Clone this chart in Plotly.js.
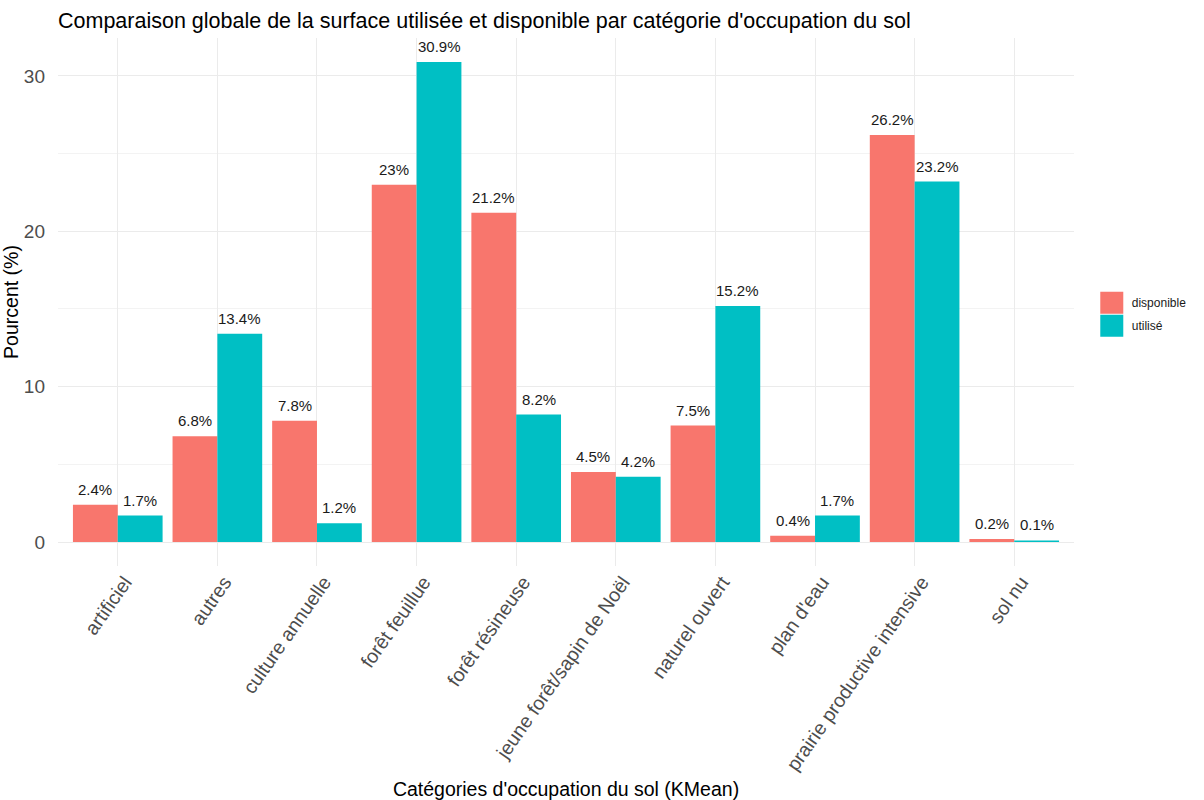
<!DOCTYPE html>
<html>
<head>
<meta charset="utf-8">
<script src="https://cdn.plot.ly/plotly-3.0.1.min.js"></script>
<style>
  html, body { margin: 0; padding: 0; background: #ffffff; }
  #chart { width: 1204px; height: 800px; }
</style>
</head>
<body>
<div id="chart"></div>
<script>
// Data
const categories = [
  "artificiel", "autres", "culture annuelle", "forêt feuillue", "forêt résineuse",
  "jeune forêt/sapin de Noël", "naturel ouvert", "plan d'eau",
  "prairie productive intensive", "sol nu"
];
const seriesNames = ["disponible", "utilisé"];
const disponible = [2.4, 6.8, 7.8, 23, 21.2, 4.5, 7.5, 0.4, 26.2, 0.2];
const utilise    = [1.7, 13.4, 1.2, 30.9, 8.2, 4.2, 15.2, 1.7, 23.2, 0.1];
const yTickVals  = [0, 10, 20, 30];

const FONT = '"Liberation Sans", Arial, sans-serif';
const colors = ["#F8766D", "#00BFC4"];

const fmt = v => (Math.round(v * 10) / 10).toString() + "%";

const traces = [disponible, utilise].map((vals, i) => ({
  type: "bar",
  name: seriesNames[i],
  legendgroup: "g" + i,
  x: categories,
  y: vals,
  marker: { color: colors[i], line: { width: 0 } },
  hoverinfo: "skip"
}));

// value labels above the bars (dodged positions via the category index)
const annotations = [];
[disponible, utilise].forEach((vals, i) => {
  const off = i === 0 ? -0.225 : 0.225;
  vals.forEach((v, j) => {
    annotations.push({
      x: j + off, y: v, xref: "x", yref: "y",
      text: fmt(v), showarrow: false,
      xanchor: "center", yanchor: "bottom", yshift: 5,
      font: { family: FONT, size: 15, color: "#1a1a1a" }
    });
  });
});

const layout = {
  width: 1204, height: 800,
  paper_bgcolor: "#ffffff", plot_bgcolor: "#ffffff",
  font: { family: FONT, color: "#1a1a1a" },
  margin: { l: 58, r: 122, t: 38, b: 234, pad: 0 },
  title: {
    text: "Comparaison globale de la surface utilisée et disponible par catégorie d'occupation du sol",
    x: 58 / 1204, xanchor: "left", xref: "container",
    y: 1 - 20 / 800, yanchor: "middle", yref: "container",
    font: { family: FONT, size: 21.5, color: "#000000" }
  },
  barmode: "group",
  bargap: 0.1,
  bargroupgap: 0,
  showlegend: true,
  legend: {
    x: 1.0175, xanchor: "left", y: 0.477, yanchor: "middle",
    font: { family: FONT, size: 12, color: "#1a1a1a" },
    tracegroupgap: 4,
    bgcolor: "rgba(0,0,0,0)", itemclick: false, itemdoubleclick: false
  },
  xaxis: {
    type: "category",
    range: [-0.6, 9.6],
    tickangle: -55,
    ticklabelshift: 7,
    tickfont: { family: FONT, size: 19.5, color: "#4d4d4d" },
    showgrid: true, gridcolor: "#ebebeb", gridwidth: 1,
    zeroline: false, showline: false, ticks: "",
    title: {
      text: "Catégories d'occupation du sol (KMean)",
      font: { family: FONT, size: 19.5, color: "#000000" },
      standoff: 8
    },
    automargin: false
  },
  yaxis: {
    range: [-1.545, 32.445],
    tickvals: yTickVals,
    ticktext: yTickVals.map(String),
    tickfont: { family: FONT, size: 19, color: "#4d4d4d" },
    showgrid: true, gridcolor: "#ebebeb", gridwidth: 1,
    minor: { dtick: 5, tick0: 5, showgrid: true, gridcolor: "#f3f3f3", gridwidth: 1, ticks: "" },
    zeroline: false, showline: false, ticks: "",
    ticklabelstandoff: 12,
    title: {
      text: "Pourcent (%)",
      font: { family: FONT, size: 19.5, color: "#000000" },
      standoff: 0
    },
    automargin: false
  },
  annotations: annotations
};

Plotly.newPlot("chart", traces, layout, { displayModeBar: false, staticPlot: true }).then(gd => {
  // enlarge the legend keys to ggplot-like squares
  gd.querySelectorAll(".legend .legendpoints path").forEach(p => {
    p.setAttribute("d", "M11.5,11H-11.5V-11H11.5Z");
  });
});
</script>
</body>
</html>
